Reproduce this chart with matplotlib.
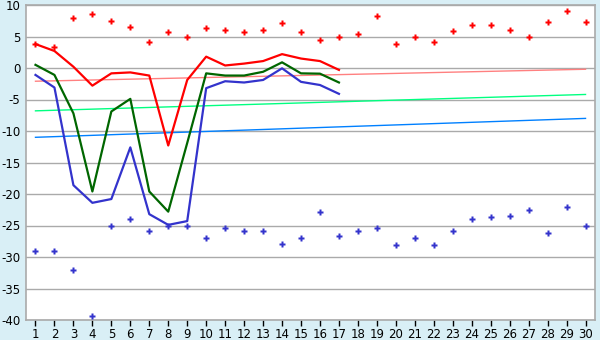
import matplotlib
matplotlib.use("Agg")
import matplotlib.pyplot as plt
import numpy as np

days = list(range(1, 31))
line_days = list(range(1, 18))

red_line = [3.8, 2.7, 0.2, -2.8, -0.85, -0.7, -1.2, -12.3, -1.9, 1.8, 0.4, 0.7, 1.1, 2.2, 1.5, 1.1, -0.3]
green_line = [0.5, -1.1, -7.2, -19.6, -6.9, -4.9, -19.6, -22.8, -11.9, -0.85, -1.2, -1.2, -0.6, 0.9, -0.85, -0.9, -2.3]
blue_line = [-1.1, -3.1, -18.6, -21.4, -20.8, -12.6, -23.2, -24.9, -24.3, -3.2, -2.1, -2.3, -1.9, -0.05, -2.2, -2.7, -4.1]

max_marks = [3.8, 3.3, 8.0, 8.5, 7.4, 6.5, 4.1, 5.7, 4.9, 6.3, 6.0, 5.7, 6.0, 7.1, 5.7,
             4.4, 5.0, 5.4, 8.2, 3.8, 5.0, 4.1, 5.8, 6.8, 6.8, 6.0, 4.9, 7.3, 9.0, 7.3]
min_marks = [-29.1, -29.1, -32.1, -39.4, -25.1, -24.0, -25.9, -25.0, -25.0, -27.0, -25.4, -25.9, -25.9, -28.0, -27.0,
             -22.9, -26.7, -25.8, -25.4, -28.1, -27.0, -28.1, -25.9, -24.0, -23.7, -23.5, -22.6, -26.2, -22.0, -25.0]

trend_days = [1, 30]
red_trend = [-2.1, -0.2]
green_trend = [-6.8, -4.2]
blue_trend = [-11.0, -8.0]

y_ticks = [10, 5, 0, -5, -10, -15, -20, -25, -30, -35, -40]

bg = "#d9eff6"
fig = plt.figure(figsize=(6, 3.4), dpi=100, facecolor=bg)
ax = fig.add_axes([26/600, 1-320/340, (595-26)/600, (320-5)/340])
ax.set_facecolor("white")

for y in y_ticks:
    ax.axhline(y, color="#aaaaaa", lw=1, zorder=1)

ax.plot(trend_days, red_trend, color="#ff8080", lw=1, zorder=2)
ax.plot(trend_days, green_trend, color="#00ff80", lw=1, zorder=2)
ax.plot(trend_days, blue_trend, color="#0080ff", lw=1, zorder=2)

ax.plot(line_days, red_line, color="#ff0000", lw=1.6, zorder=3)
ax.plot(line_days, green_line, color="#006600", lw=1.6, zorder=3)
ax.plot(line_days, blue_line, color="#3333cc", lw=1.6, zorder=3)

ax.plot(days, max_marks, ls="none", marker="P", ms=4.5, color="#ff0000", mec="none", zorder=4)
ax.plot(days, min_marks, ls="none", marker="P", ms=4.5, color="#3333cc", mec="none", zorder=4)

ax.set_xlim(0.5, 30.5)
ax.set_ylim(-40, 10)
ax.set_xticks(days)
ax.set_xticklabels([str(d) for d in days])
ax.set_yticks(y_ticks)
ax.set_yticklabels([str(y) for y in y_ticks])
ax.tick_params(axis="x", length=4, width=1, color="black", labelsize=8.5, pad=2)
ax.tick_params(axis="y", length=0, labelsize=8.5, pad=4)
for s in ax.spines.values():
    s.set_color("#aaaaaa")
    s.set_linewidth(1.2)

fig.savefig("out.png", dpi=100, facecolor=bg)
